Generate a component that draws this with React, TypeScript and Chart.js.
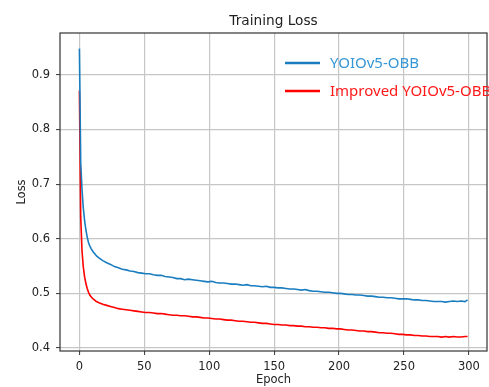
import { useEffect, useRef } from "react";
import { Chart, registerables } from "chart.js";

Chart.register(...registerables);

const chartTitle = "Training Loss";
const xAxisTitle = "Epoch";
const yAxisTitle = "Loss";
const seriesLabels = ["YOIOv5-OBB", "Improved YOIOv5-OBB"];

const xTicks = [0, 50, 100, 150, 200, 250, 300];
const yTicks = [0.4, 0.5, 0.6, 0.7, 0.8, 0.9];

const epochs = [
  0, 1, 2, 3, 4, 5, 6, 7, 8, 9, 10, 11, 12, 13, 14, 15,
  18, 21, 24, 27, 30, 33, 36, 39, 42, 45, 48, 51, 54, 57, 60, 63, 66, 69, 72, 75,
  78, 81, 84, 87, 90, 93, 96, 99, 102, 105, 108, 111, 114, 117, 120, 123, 126, 129,
  132, 135, 138, 141, 144, 147, 150, 153, 156, 159, 162, 165, 168, 171, 174, 177,
  180, 183, 186, 189, 192, 195, 198, 201, 204, 207, 210, 213, 216, 219, 222, 225,
  228, 231, 234, 237, 240, 243, 246, 249, 252, 255, 258, 261, 264, 267, 270, 273,
  276, 279, 282, 285, 288, 291, 294, 297, 299,
];

const yolov5Loss = [
  0.948, 0.74, 0.69, 0.656, 0.633, 0.616, 0.603, 0.593, 0.587, 0.582, 0.578, 0.575, 0.572, 0.569, 0.567, 0.565,
  0.56, 0.556, 0.553, 0.549, 0.547, 0.544, 0.543, 0.541, 0.54, 0.538, 0.537, 0.536, 0.536, 0.534, 0.533, 0.533, 0.531, 0.53, 0.529, 0.527,
  0.527, 0.525, 0.526, 0.525, 0.524, 0.523, 0.522, 0.521, 0.522, 0.52, 0.519, 0.519, 0.518, 0.517, 0.517, 0.516, 0.515, 0.516,
  0.514, 0.514, 0.513, 0.512, 0.513, 0.511, 0.511, 0.51, 0.51, 0.509, 0.508, 0.508, 0.507, 0.506, 0.507, 0.505,
  0.504, 0.504, 0.503, 0.502, 0.502, 0.501, 0.5, 0.5, 0.499, 0.498, 0.498, 0.497, 0.497, 0.496, 0.495, 0.495,
  0.494, 0.493, 0.493, 0.492, 0.492, 0.491, 0.49, 0.49, 0.49, 0.489, 0.488, 0.488, 0.487, 0.487, 0.486, 0.485,
  0.485, 0.485, 0.484, 0.485, 0.486, 0.485, 0.486, 0.485, 0.488,
];

const improvedLoss = [
  0.871, 0.64, 0.578, 0.548, 0.53, 0.518, 0.509, 0.502, 0.497, 0.494, 0.491, 0.489, 0.487, 0.485, 0.484, 0.483,
  0.48, 0.478, 0.476, 0.474, 0.472, 0.471, 0.47, 0.469, 0.468, 0.467, 0.466, 0.465, 0.465, 0.464, 0.463, 0.463, 0.462, 0.461, 0.46, 0.46,
  0.459, 0.459, 0.458, 0.457, 0.457, 0.456, 0.455, 0.455, 0.454, 0.453, 0.453, 0.452, 0.451, 0.451, 0.45, 0.449, 0.449, 0.448,
  0.447, 0.447, 0.446, 0.445, 0.445, 0.444, 0.443, 0.443, 0.442, 0.442, 0.441, 0.441, 0.44, 0.44, 0.439, 0.439,
  0.438, 0.438, 0.437, 0.437, 0.436, 0.436, 0.435, 0.435, 0.434, 0.433, 0.433, 0.432, 0.431, 0.431, 0.43, 0.43,
  0.429, 0.428, 0.428, 0.427, 0.427, 0.426, 0.425, 0.425, 0.424, 0.424, 0.423, 0.423, 0.422, 0.422, 0.421, 0.421,
  0.421, 0.42, 0.421, 0.42, 0.421, 0.42, 0.42, 0.421, 0.421,
];

const lineColors = ["#1a7dc0", "#ff0000"];
const legendTextColors = ["#3597d6", "#ff1a1a"];

const overlayPlugin = {
  id: "overlay",
  afterDatasetsDraw(chart: any) {
    const { ctx, chartArea: a } = chart;
    ctx.save();
    ctx.strokeStyle = "#333333";
    ctx.lineWidth = 1.2;
    ctx.strokeRect(a.left, a.top, a.right - a.left, a.bottom - a.top);
    ctx.fillStyle = "#222222";
    ctx.font = "13.7px 'DejaVu Sans'";
    ctx.textAlign = "center";
    ctx.textBaseline = "alphabetic";
    ctx.fillText(chartTitle, (a.left + a.right) / 2, 25);
    ctx.font = "15px 'Noto Sans'";
    ctx.textAlign = "left";
    ctx.textBaseline = "middle";
    chart.data.datasets.forEach((ds: any, i: number) => {
      const y = a.top + 30 + i * 28;
      const x0 = a.right - 202;
      ctx.strokeStyle = lineColors[i];
      ctx.lineWidth = 2.6;
      ctx.beginPath();
      ctx.moveTo(x0, y);
      ctx.lineTo(x0 + 35, y);
      ctx.stroke();
      ctx.fillStyle = legendTextColors[i];
      ctx.fillText(ds.label, x0 + 45, y + 1);
    });
    ctx.restore();
  },
};

export default function App() {
  const ref = useRef<HTMLCanvasElement>(null);
  useEffect(() => {
    if (!ref.current) return;
    const tickFont = { family: "'DejaVu Sans'", size: 11.5 };
    const chart = new Chart(ref.current, {
      type: "line",
      data: {
        datasets: [
          {
            label: seriesLabels[0],
            data: epochs.map((e, i) => ({ x: e, y: yolov5Loss[i] })),
            borderColor: lineColors[0],
            borderWidth: 1.6,
            pointRadius: 0,
            tension: 0,
          },
          {
            label: seriesLabels[1],
            data: epochs.map((e, i) => ({ x: e, y: improvedLoss[i] })),
            borderColor: lineColors[1],
            borderWidth: 1.6,
            pointRadius: 0,
            tension: 0,
          },
        ],
      },
      options: {
        animation: false,
        responsive: false,
        events: [],
        layout: { padding: { top: 33, right: 2, left: 0, bottom: 0 } },
        plugins: { legend: { display: false }, title: { display: false }, tooltip: { enabled: false } },
        scales: {
          x: {
            type: "linear",
            min: -14.95,
            max: 313.95,
            afterBuildTicks: (s: any) => {
              s.ticks = xTicks.map((v) => ({ value: v }));
            },
            afterFit: (s: any) => {
              s.height = 36;
            },
            ticks: { font: tickFont, color: "#222", padding: 5, maxRotation: 0, callback: (v: any) => String(v) },
            grid: { color: "#c6c6c6", lineWidth: 1.2, tickColor: "#333", tickLength: 4, tickWidth: 1 },
            border: { display: false },
            title: { display: true, text: xAxisTitle, font: tickFont, color: "#222", padding: { top: 0, bottom: 0 } },
          },
          y: {
            type: "linear",
            min: 0.3945,
            max: 0.9766,
            afterBuildTicks: (s: any) => {
              s.ticks = yTicks.map((v) => ({ value: v }));
            },
            afterFit: (s: any) => {
              s.width = 60;
            },
            ticks: { font: tickFont, color: "#222", padding: 6, callback: (v: any) => Number(v).toFixed(1) },
            grid: { color: "#c6c6c6", lineWidth: 1.2, tickColor: "#333", tickLength: 4, tickWidth: 1 },
            border: { display: false },
            title: { display: true, text: yAxisTitle, font: tickFont, color: "#222", padding: { top: 15, bottom: 0 } },
          },
        },
      },
      plugins: [overlayPlugin],
    } as any);
    return () => chart.destroy();
  }, []);
  return (
    <div style={{ position: "fixed", left: 0, top: 0, width: 489, height: 387, background: "#fff" }}>
      <canvas ref={ref} width={489} height={387} style={{ display: "block", width: 489, height: 387 }} />
    </div>
  );
}
